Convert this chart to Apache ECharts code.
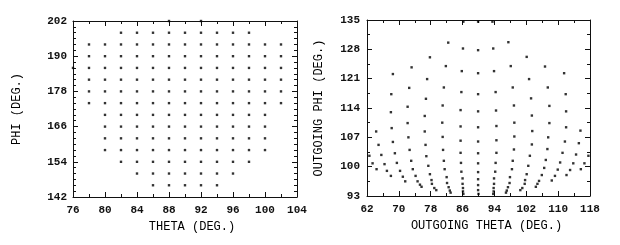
<!DOCTYPE html>
<html>
<head>
<meta charset="utf-8">
<script src="https://cdn.jsdelivr.net/npm/echarts@6/dist/echarts.min.js"></script>
<style>
html,body{margin:0;padding:0;background:#fff;}
#chart{width:620px;height:245px;}
</style>
</head>
<body>
<div id="chart"></div>
<script>
// ---------- Left panel: incoming directions ----------
const incomingPhiRows = [198, 194, 190, 186, 182, 178, 174, 170, 166, 162, 158, 154, 150, 146];
const incomingThetaRows = [
  [82, 84, 86, 88, 90, 92, 94, 96, 98],
  [78, 80, 82, 84, 86, 88, 90, 92, 94, 96, 98, 100, 102],
  [78, 80, 82, 84, 86, 88, 90, 92, 94, 96, 98, 100, 102],
  [78, 80, 82, 84, 86, 88, 90, 92, 94, 96, 98, 100, 102],
  [78, 80, 82, 84, 86, 88, 90, 92, 94, 96, 98, 100, 102],
  [78, 80, 82, 84, 86, 88, 90, 92, 94, 96, 98, 100, 102],
  [78, 80, 82, 84, 86, 88, 90, 92, 94, 96, 98, 100, 102],
  [80, 82, 84, 86, 88, 90, 92, 94, 96, 98, 100],
  [80, 82, 84, 86, 88, 90, 92, 94, 96, 98, 100],
  [80, 82, 84, 86, 88, 90, 92, 94, 96, 98, 100],
  [80, 82, 84, 86, 88, 90, 92, 94, 96, 98, 100],
  [82, 84, 86, 88, 90, 92, 94, 96, 98],
  [84, 86, 88, 90, 92, 94, 96],
  [86, 88, 90, 92, 94]
];
const incomingEdgePoints = [[88, 202], [92, 202], [76, 186]];

// ---------- Right panel: outgoing directions (theta, phi) ----------
const outCenter = [[89.9,134.6],[89.9,127.8],[89.9,122.3],[89.9,117.3],[89.9,113.2],[89.9,109.4],[89.9,106.0],[89.9,103.2],[89.9,100.8],[89.9,98.7],[89.9,97.0],[89.9,95.6],[89.9,94.4],[90.0,93.5]];
const outL1 = [[86.2,134.6],[86.1,128.2],[85.8,122.8],[85.7,117.8],[85.5,113.5],[85.5,109.6],[85.5,106.2],[85.5,103.3],[85.6,100.9],[85.7,98.8],[86.0,97.2],[86.0,95.9],[86.1,94.9],[86.1,94.1],[86.2,93.5]];
const outR1 = [[93.5,134.6],[93.7,128.2],[93.9,122.8],[94.3,117.8],[94.4,113.4],[94.5,109.7],[94.5,106.3],[94.5,103.3],[94.3,100.9],[94.2,98.8],[93.9,97.2],[93.9,95.9],[93.8,94.9],[93.8,94.1],[93.7,93.5]];
const outL2 = [[82.4,129.6],[81.8,124.0],[81.3,118.9],[81.0,114.6],[80.9,110.5],[81.0,107.1],[81.1,104.0],[81.3,101.4],[81.5,99.4],[82.0,97.5],[82.1,96.1],[82.5,95.1],[82.8,94.3],[83.0,93.8]];
const outR2 = [[97.5,129.7],[98.1,124.0],[98.6,118.9],[98.9,114.6],[99.0,110.5],[99.0,107.2],[98.9,104.1],[98.6,101.4],[98.4,99.4],[97.9,97.5],[97.8,96.1],[97.4,95.1],[97.1,94.3],[96.9,93.8]];
const outL3 = [[77.8,126.1],[77.1,120.9],[76.8,116.2],[76.5,112.1],[76.5,108.4],[76.7,105.2],[76.9,102.5],[77.4,100.2],[77.8,98.2],[78.2,96.8],[78.3,95.9],[78.9,94.9],[79.4,94.4]];
const outR3 = [[102.1,126.2],[102.7,120.9],[103.2,116.3],[103.4,112.2],[103.5,108.5],[103.4,105.3],[102.9,102.6],[102.5,100.2],[102.1,98.2],[101.7,96.8],[101.6,95.9],[101.0,94.9],[100.5,94.4]];
const outL4 = [[73.2,123.7],[72.6,118.8],[72.2,114.3],[72.2,110.4],[72.4,107.0],[72.7,104.0],[73.1,101.4],[73.5,99.4],[74.2,97.8],[74.7,96.5],[75.3,95.7],[75.7,95.2]];
const outR4 = [[106.7,123.9],[107.4,118.9],[107.8,114.5],[107.8,110.4],[107.5,107.0],[107.3,104.2],[106.9,101.6],[106.5,99.7],[105.9,98.0],[105.2,96.6],[104.8,95.9],[104.4,95.2]];
const outL5 = [[68.5,122.1],[68.1,117.3],[68.0,113.0],[68.2,109.2],[68.5,105.9],[69.0,103.2],[69.5,100.9],[70.3,99.0],[71.0,97.6],[71.6,96.5]];
const outR5 = [[111.5,122.3],[111.9,117.3],[112.0,113.2],[112.0,109.4],[111.7,106.0],[111.1,103.3],[110.5,101.0],[109.9,99.3],[109.2,97.8],[108.4,96.7]];
const outL6 = [[64.3,108.4],[64.9,105.2],[65.6,102.8],[66.4,100.6],[67.0,99.0],[68.0,97.8]];
const outR6 = [[115.6,108.6],[115.2,105.6],[114.5,102.9],[113.8,100.8],[113.0,99.2],[112.1,98.0]];
const outL7 = [[62.6,102.6],[63.4,100.8],[64.4,99.4]];
const outR7 = [[117.6,102.6],[116.6,100.8],[115.7,99.4]];

// ---------- Tick labels ----------
const leftXTicks = [76, 80, 84, 88, 92, 96, 100, 104];
const leftXMinor = [78, 82, 86, 90, 94, 98, 102];
const leftYTicks = [142, 154, 166, 178, 190, 202];
const leftYMinor = [144, 146, 148, 150, 152, 156, 158, 160, 162, 164, 168, 170, 172, 174, 176, 180, 182, 184, 186, 188, 192, 194, 196, 198, 200];
const rightXTicks = [62, 70, 78, 86, 94, 102, 110, 118];
const rightXMinor = [66, 74, 82, 90, 98, 106, 114];
const rightYTicks = [93, 100, 107, 114, 121, 128, 135];
const rightYMinor = [96.5, 103.5, 110.5, 117.5, 124.5, 131.5];

// ---------- Build ----------
const incomingData = [];
incomingPhiRows.forEach((phi, i) => incomingThetaRows[i].forEach(t => incomingData.push([t, phi])));
incomingEdgePoints.forEach(p => incomingData.push(p));
const outgoingData = [].concat(outCenter, outL1, outR1, outL2, outR2, outL3, outR3, outL4, outR4, outL5, outR5, outL6, outR6, outL7, outR7);

const labelFont = {fontFamily: 'Liberation Mono', fontSize: 11, fontWeight: 'bold', color: '#111'};
const nameFont = {fontFamily: 'Liberation Mono', fontSize: 12, color: '#000'};

function axis(gridIndex, position, min, max, ticks, opts) {
  opts = opts || {};
  return {
    type: 'value', gridIndex, position, min, max,
    axisLine: {show: opts.line !== false, onZero: false, lineStyle: {color: '#111', width: 1}},
    axisTick: {show: true, inside: true, length: opts.len || 5, customValues: ticks, lineStyle: {color: '#111', width: 1}},
    axisLabel: opts.labels ? Object.assign({show: true, customValues: ticks, margin: opts.margin || 7}, labelFont) : {show: false},
    splitLine: {show: false},
    name: opts.name || '',
    nameLocation: 'middle',
    nameGap: opts.nameGap || 0,
    nameTextStyle: Object.assign({}, nameFont, opts.namePad ? {padding: opts.namePad} : {})
  };
}

const option = {
  animation: false,
  backgroundColor: '#fff',
  grid: [
    {left: 73, top: 21, width: 224, height: 176},
    {left: 367, top: 20, width: 223, height: 176}
  ],
  xAxis: [
    axis(0, 'bottom', 76, 104, leftXTicks, {labels: true, margin: 8, name: 'THETA (DEG.)', nameGap: 24, namePad: [0, 0, 0, 14]}),
    axis(0, 'bottom', 76, 104, leftXMinor, {line: false, len: 3}),
    axis(0, 'top', 76, 104, leftXTicks, {}),
    axis(0, 'top', 76, 104, leftXMinor, {line: false, len: 3}),
    axis(1, 'bottom', 62, 118, rightXTicks, {labels: true, margin: 8, name: 'OUTGOING THETA (DEG.)', nameGap: 24, namePad: [0, 0, 0, 16]}),
    axis(1, 'bottom', 62, 118, rightXMinor, {line: false, len: 3}),
    axis(1, 'top', 62, 118, rightXTicks, {}),
    axis(1, 'top', 62, 118, rightXMinor, {line: false, len: 3})
  ],
  yAxis: [
    axis(0, 'left', 142, 202, leftYTicks, {labels: true, margin: 6, name: 'PHI (DEG.)', nameGap: 50}),
    axis(0, 'left', 142, 202, leftYMinor, {line: false, len: 3}),
    axis(0, 'right', 142, 202, leftYTicks, {}),
    axis(0, 'right', 142, 202, leftYMinor, {line: false, len: 3}),
    axis(1, 'left', 93, 135, rightYTicks, {labels: true, margin: 7, name: 'OUTGOING PHI (DEG.)', nameGap: 42}),
    axis(1, 'left', 93, 135, rightYMinor, {line: false, len: 3}),
    axis(1, 'right', 93, 135, rightYTicks, {}),
    axis(1, 'right', 93, 135, rightYMinor, {line: false, len: 3})
  ],
  series: [
    {type: 'scatter', xAxisIndex: 0, yAxisIndex: 0, data: incomingData, symbol: 'rect', symbolSize: 2.4, clip: false,
     itemStyle: {color: '#000'}, silent: true},
    {type: 'scatter', xAxisIndex: 4, yAxisIndex: 4, data: outgoingData, symbol: 'rect', symbolSize: 2.4, clip: false,
     itemStyle: {color: '#000'}, silent: true}
  ]
};

const chart = echarts.init(document.getElementById('chart'), null, {renderer: 'canvas'});
chart.setOption(option);
</script>
</body>
</html>
